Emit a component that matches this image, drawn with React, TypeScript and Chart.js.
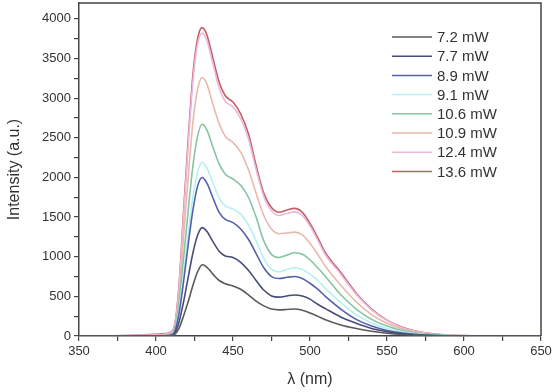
import React, { useEffect, useRef } from "react";
import { Chart, registerables } from "chart.js";

Chart.register(...registerables);

const wavelengths = [350, 380, 400, 406, 409, 412, 415, 418, 421, 424, 427, 430, 433, 437, 441, 445, 450, 455, 460, 465, 470, 475, 480, 485, 490, 495, 500, 505, 510, 520, 530, 540, 550, 560, 570, 580, 590, 600, 625, 650];

const labels = ["7.2 mW", "7.7 mW", "8.9 mW", "9.1 mW", "10.6 mW", "10.9 mW", "12.4 mW", "13.6 mW"];
const colors = ["#5a5a5a", "#474c78", "#5560ac", "#b5f0f2", "#86c4a2", "#e9b9ae", "#ecb8dc", "#c45e62"];

const s72 = [0, 0, 0, 1, 3, 18, 100, 260, 440, 640, 810, 899, 870, 780, 700, 660, 630, 590, 520, 440, 380, 340, 330, 335, 340, 325, 290, 250, 205, 140, 95, 60, 35, 18, 8, 3, 1, 0, 0, 0];
const s77 = [0, 0, 0, 2, 5, 30, 180, 440, 750, 1050, 1270, 1367, 1320, 1190, 1070, 1010, 990, 930, 830, 700, 580, 505, 490, 505, 518, 505, 465, 400, 345, 240, 160, 95, 55, 28, 13, 5, 2, 0, 0, 0];
const s89 = [0, 0, 2, 4, 10, 50, 290, 700, 1170, 1590, 1890, 2000, 1930, 1740, 1560, 1470, 1430, 1350, 1220, 1040, 860, 750, 725, 740, 750, 725, 665, 590, 500, 340, 210, 125, 70, 38, 18, 8, 3, 1, 0, 0];
const s91 = [0, 0, 2, 5, 15, 60, 340, 800, 1300, 1760, 2070, 2190, 2120, 1930, 1740, 1640, 1600, 1540, 1400, 1200, 980, 840, 810, 840, 860, 840, 780, 700, 600, 420, 270, 165, 95, 52, 26, 12, 5, 2, 0, 0];
const s106 = [0, 0, 3, 8, 20, 80, 420, 1000, 1600, 2150, 2520, 2670, 2600, 2380, 2170, 2040, 1980, 1900, 1750, 1500, 1200, 1030, 990, 1020, 1050, 1030, 960, 860, 750, 520, 340, 210, 125, 68, 35, 17, 7, 3, 0, 0];
const s109 = [0, 2, 10, 18, 30, 100, 520, 1270, 2020, 2700, 3110, 3260, 3180, 2920, 2680, 2520, 2440, 2320, 2100, 1800, 1520, 1350, 1290, 1300, 1310, 1275, 1170, 1030, 880, 640, 430, 270, 160, 88, 45, 22, 9, 3, 0, 0];
const s124 = [0, 3, 15, 25, 40, 120, 620, 1540, 2430, 3220, 3680, 3820, 3730, 3430, 3130, 2960, 2890, 2740, 2490, 2100, 1760, 1580, 1520, 1545, 1565, 1520, 1385, 1210, 1025, 780, 525, 330, 195, 105, 52, 26, 11, 4, 0, 0];
const s136 = [0, 5, 20, 30, 45, 130, 650, 1600, 2500, 3300, 3750, 3890, 3800, 3500, 3200, 3030, 2950, 2800, 2550, 2150, 1800, 1620, 1560, 1590, 1610, 1560, 1420, 1240, 1050, 800, 540, 340, 200, 110, 55, 28, 12, 5, 0, 0];

const series = [s72, s77, s89, s91, s106, s109, s124, s136];

const xMajor = [350, 400, 450, 500, 550, 600, 650];
const yMajor = [0, 500, 1000, 1500, 2000, 2500, 3000, 3500, 4000];

const FONT = 'Arial, "Liberation Sans", sans-serif';
const AXIS = "#444";

const framePlugin = {
  id: "frame",
  afterDraw(chart: any) {
    const { ctx, chartArea } = chart;
    const { left, right, top, bottom } = chartArea;
    ctx.save();
    ctx.strokeStyle = AXIS;
    ctx.lineWidth = 1.5;
    ctx.beginPath();
    ctx.moveTo(left, top);
    ctx.lineTo(right, top);
    ctx.lineTo(right, bottom);
    ctx.stroke();
    // legend
    ctx.font = `15px ${FONT}`;
    ctx.textBaseline = "middle";
    ctx.textAlign = "left";
    chart.data.datasets.forEach((ds: any, i: number) => {
      const y = 37 + i * 19.2;
      ctx.strokeStyle = ds.borderColor;
      ctx.lineWidth = 1.5;
      ctx.beginPath();
      ctx.moveTo(392, y);
      ctx.lineTo(432, y);
      ctx.stroke();
      ctx.fillStyle = "#333";
      ctx.fillText(ds.label, 437, y + 1);
    });
    ctx.restore();
  },
};

export default function App() {
  const ref = useRef<HTMLCanvasElement | null>(null);
  useEffect(() => {
    document.body.style.margin = "0";
    const canvas = ref.current!;
    const chart = new Chart(canvas, {
      type: "line",
      data: {
        datasets: series.map((s, i) => ({
          label: labels[i],
          data: wavelengths.map((x, j) => ({ x, y: s[j] })),
          borderColor: colors[i],
          backgroundColor: colors[i],
          borderWidth: 1.6,
          pointRadius: 0,
          cubicInterpolationMode: "monotone" as const,
          fill: false,
        })),
      },
      options: {
        animation: false,
        responsive: false,
        maintainAspectRatio: false,
        layout: { padding: { top: 3, right: 14, left: 0, bottom: 0 } },
        plugins: { legend: { display: false }, tooltip: { enabled: false } },
        scales: {
          x: {
            type: "linear",
            min: 350,
            max: 650,
            afterBuildTicks: (scale: any) => {
              const t: any[] = [];
              for (let v = 350; v <= 650; v += 25) t.push({ value: v });
              scale.ticks = t;
            },
            afterFit: (scale: any) => {
              scale.height = 56;
              scale.paddingLeft = 0;
              scale.paddingRight = 0;
            },
            ticks: {
              autoSkip: false,
              maxRotation: 0,
              padding: 3,
              color: "#333",
              font: { family: FONT, size: 13 },
              callback: (v: any) => (xMajor.includes(Number(v)) ? String(v) : ""),
            },
            grid: { drawOnChartArea: false, drawTicks: true, tickLength: 5, color: AXIS, lineWidth: 1.2 },
            border: { color: AXIS, width: 1.5 },
            title: {
              display: true,
              text: "λ (nm)",
              color: "#333",
              font: { family: FONT, size: 16 },
              padding: { top: 0, bottom: 3 },
            },
          },
          y: {
            type: "linear",
            min: 0,
            max: 4200,
            afterBuildTicks: (scale: any) => {
              const t: any[] = [];
              for (let v = 0; v <= 4000; v += 250) t.push({ value: v });
              scale.ticks = t;
            },
            afterFit: (scale: any) => {
              scale.width = 79;
              scale.paddingTop = 0;
              scale.paddingBottom = 0;
            },
            ticks: {
              autoSkip: false,
              padding: 3,
              color: "#333",
              font: { family: FONT, size: 13 },
              callback: (v: any) => (yMajor.includes(Number(v)) ? String(v) : ""),
            },
            grid: { drawOnChartArea: false, drawTicks: true, tickLength: 5, color: AXIS, lineWidth: 1.2 },
            border: { color: AXIS, width: 1.5 },
            title: {
              display: true,
              text: "Intensity (a.u.)",
              color: "#333",
              font: { family: FONT, size: 16 },
              padding: { top: 5, bottom: 0 },
            },
          },
        },
      },
      plugins: [framePlugin],
    });
    return () => chart.destroy();
  }, []);
  return (
    <div style={{ width: 555, height: 392 }}>
      <canvas ref={ref} width={555} height={392} style={{ width: 555, height: 392 }} />
    </div>
  );
}
